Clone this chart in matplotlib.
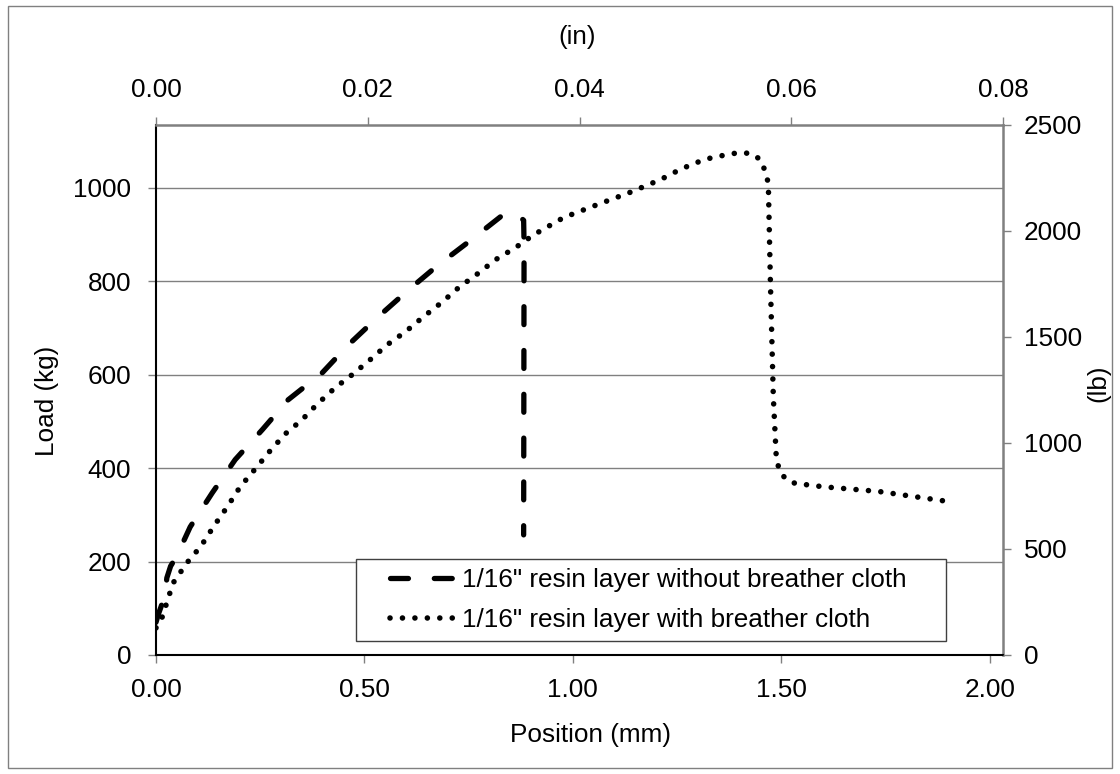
import matplotlib
matplotlib.use("Agg")
import matplotlib.pyplot as plt
from matplotlib.patches import Rectangle
from matplotlib.lines import Line2D

plt.rcParams['font.family'] = ['Liberation Sans', 'DejaVu Sans']

# ---- data (position in mm, load in kg) ----
without_x = [0.000, 0.006, 0.012, 0.022, 0.026, 0.035, 0.050, 0.082, 0.135, 0.190,
             0.255, 0.317, 0.399, 0.462, 0.531, 0.603, 0.675, 0.750, 0.827, 0.850,
             0.870, 0.882, 0.883, 0.882]
without_y = [70, 88, 103, 130, 165, 190, 212, 274, 347, 418,
             482, 546, 604, 664, 722, 779, 833, 884, 938, 948,
             940, 930, 880, 257]

with_x = [0.000, 0.014, 0.041, 0.074, 0.108, 0.139, 0.171, 0.202, 0.238, 0.272,
          0.310, 0.350, 0.387, 0.430, 0.471, 0.514, 0.555, 0.599, 0.642, 0.685,
          0.726, 0.772, 0.815, 0.863, 0.906, 0.978, 1.060, 1.135, 1.210, 1.260,
          1.315, 1.344, 1.373, 1.399, 1.428, 1.450, 1.462, 1.469, 1.474, 1.481,
          1.488, 1.495, 1.510, 1.536, 1.565, 1.600, 1.733, 1.904]
with_y = [58, 79, 154, 197, 233, 276, 317, 360, 398, 435,
          473, 503, 537, 572, 600, 632, 664, 692, 724, 754,
          786, 816, 846, 872, 899, 936, 964, 989, 1017, 1040,
          1060, 1066, 1071, 1075, 1073, 1060, 1034, 1009, 797, 552,
          424, 396, 377, 366, 364, 360, 350, 328]

labels = ['1/16" resin layer without breather cloth',
          '1/16" resin layer with breather cloth']

left_ticks = [0, 200, 400, 600, 800, 1000]
right_ticks = [0, 500, 1000, 1500, 2000, 2500]
bottom_ticks = [0.0, 0.5, 1.0, 1.5, 2.0]
top_ticks = [0.00, 0.02, 0.04, 0.06, 0.08]

W, H = 1120, 774
fig = plt.figure(figsize=(W / 100, H / 100), dpi=100)
FS = 18.8
GRAY = '#808080'

DASH = dict(color='black', lw=3.8, linestyle=(0, (3.4, 4.9)),
            dash_capstyle='round', solid_capstyle='round')
DOT = dict(color='black', lw=4.0, linestyle=(0, (0.01, 2.23)),
           dash_capstyle='round')

l, r, b, t = 156, 1003, 655, 125
ax = fig.add_axes([l / W, 1 - b / H, (r - l) / W, (b - t) / H])

ax.set_xlim(0, 0.08 * 25.4)
ax.set_ylim(0, 2500 / 2.20462)

ax.plot(without_x, without_y, **DASH)
ax.plot(with_x, with_y, **DOT)

ax.set_xticks(bottom_ticks)
ax.set_xticklabels([f'{v:.2f}' for v in bottom_ticks])
ax.set_yticks(left_ticks)
ax.set_yticklabels([str(v) for v in left_ticks])
ax.yaxis.grid(True, color=GRAY, lw=1.0)
ax.set_axisbelow(True)

for s in ['left', 'bottom']:
    ax.spines[s].set_color('black')
    ax.spines[s].set_linewidth(1.5)
for s in ['top', 'right']:
    ax.spines[s].set_color(GRAY)
    ax.spines[s].set_linewidth(1.8)

ax.tick_params(axis='x', direction='out', length=5.8, width=1, color=GRAY,
               labelsize=FS, pad=11)
ax.tick_params(axis='y', direction='out', length=5.8, width=1, color=GRAY,
               labelsize=FS, pad=12)

axr = ax.twinx()
axr.set_ylim(0, 2500)
axr.set_yticks(right_ticks)
axr.set_yticklabels([str(v) for v in right_ticks])
axr.tick_params(axis='y', direction='out', length=5.8, width=1, color=GRAY,
                labelsize=FS, pad=9)

axt = ax.twiny()
axt.set_xlim(0, 0.08)
axt.set_xticks(top_ticks)
axt.set_xticklabels([f'{v:.2f}' for v in top_ticks])
axt.tick_params(axis='x', direction='out', length=5.8, width=1, color=GRAY,
                labelsize=FS, pad=11)

for a in (axr, axt):
    for s in a.spines.values():
        s.set_visible(False)

# axis titles
fig.text(47 / W, 1 - 401 / H, 'Load (kg)', rotation=90, ha='center', va='center', fontsize=FS)
fig.text(1098 / W, 1 - 383 / H, '(lb)', rotation=90, ha='center', va='center', fontsize=FS)
fig.text(591 / W, 1 - 735 / H, 'Position (mm)', ha='center', va='center', fontsize=FS)
fig.text(577 / W, 1 - 37 / H, '(in)', ha='center', va='center', fontsize=FS)

# legend box
lx0, ly0, lx1, ly1 = 356, 559, 946, 641
fig.patches.append(Rectangle((lx0 / W, 1 - ly1 / H), (lx1 - lx0) / W, (ly1 - ly0) / H,
                             transform=fig.transFigure, facecolor='white',
                             edgecolor='#404040', lw=1.0, zorder=5))
handles = [Line2D([], [], **DASH), Line2D([], [], **DOT)]
leg = fig.legend(handles, labels, loc='center left', frameon=False,
                 bbox_to_anchor=(390 / W, 1 - 600 / H), fontsize=FS,
                 handlelength=2.6, handletextpad=0.15, labelspacing=0.62,
                 borderpad=0, borderaxespad=0)
leg.set_zorder(6)

# outer border
fig.patches.append(Rectangle((8 / W, 6 / H), (W - 16) / W, (H - 12) / H,
                             transform=fig.transFigure, facecolor='none',
                             edgecolor=GRAY, lw=1.0))

fig.savefig('out.png', dpi=100)
